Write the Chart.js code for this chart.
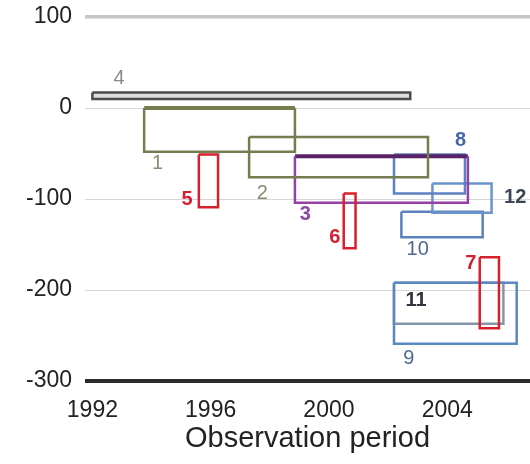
<!DOCTYPE html>
<html>
<head>
<meta charset="utf-8">
<script src="https://cdn.jsdelivr.net/npm/chart.js@4.4.0/dist/chart.umd.min.js"></script>
<style>
  html, body { margin: 0; padding: 0; background: #fff; }
  #wrap { width: 530px; height: 464px; }
</style>
</head>
<body>
<div id="wrap"><canvas id="boxChart" width="530" height="464"></canvas></div>
<script>
// observation windows (years) and value ranges for each study
const boxNames  = ['4', '1', '2', '3', '8', '12', '5', '6', '10', '9', '11', '7'];
const boxStart  = [1992.0, 1993.75, 1997.3, 1998.85, 2002.2, 2003.5, 1995.6, 2000.5, 2002.45, 2002.2, 2002.2, 2005.1];
const boxEnd    = [2002.75, 1998.85, 2003.35, 2004.7, 2004.6, 2005.5, 1996.25, 2000.9, 2005.2, 2006.35, 2005.9, 2005.75];
const boxHigh   = [17, 0, -32, -53, -51, -83, -51, -94, -114, -192, -192, -164];
const boxLow    = [10, -48, -76, -104, -94, -115, -109, -154, -142, -259, -237, -242];

const yearTicks  = [1992, 1996, 2000, 2004];
const valueTicks = [100, 0, -100, -200, -300];

const boxColors = {
  '4': '#4a4a4a', '1': '#737d50', '2': '#737d50', '3': '#9440a4',
  '8': '#5f80c2', '12': '#6a94cc', '5': '#d8202c', '6': '#d8202c',
  '10': '#5c82bc', '9': '#5c88c2', '11': '#8496aa', '7': '#d8202c'
};

// where each number sits, in data units
const labelSpots = {
  '4':  { x: 1992.9, y: 32,   color: '#8a8a8a', bold: false },
  '1':  { x: 1994.2, y: -61,  color: '#8a8c70', bold: false },
  '5':  { x: 1995.2, y: -101, color: '#d42030', bold: true },
  '2':  { x: 1997.75, y: -94, color: '#8a8c70', bold: false },
  '3':  { x: 1999.2, y: -117, color: '#8e48a0', bold: true },
  '8':  { x: 2004.45, y: -36, color: '#4a68a8', bold: true },
  '12': { x: 2006.3, y: -98,  color: '#3c4654', bold: true },
  '6':  { x: 2000.2, y: -142, color: '#d42030', bold: true },
  '10': { x: 2003.0, y: -155, color: '#4c6890', bold: false },
  '7':  { x: 2004.8, y: -171, color: '#d42030', bold: true },
  '11': { x: 2002.95, y: -212, color: '#2e3640', bold: true },
  '9':  { x: 2002.7, y: -275, color: '#4c6a98', bold: false }
};

function rectPoints(i) {
  return [
    { x: boxStart[i], y: boxHigh[i] },
    { x: boxEnd[i], y: boxHigh[i] },
    { x: boxEnd[i], y: boxLow[i] },
    { x: boxStart[i], y: boxLow[i] },
    { x: boxStart[i], y: boxHigh[i] }
  ];
}

const datasets = boxNames.map((name, i) => {
  const c = boxColors[name];
  const thickTop = (name === '1' || name === '3');
  return {
    label: name,
    data: rectPoints(i),
    showLine: true,
    pointRadius: 0,
    pointHoverRadius: 0,
    tension: 0,
    borderColor: c,
    borderWidth: 2.5,
    backgroundColor: name === '4' ? '#dedede' : 'transparent',
    fill: name === '4' ? 'shape' : false,
    order: name === '4' ? 0 : (name === '5' || name === '6' || name === '7' ? 1 : 2),
    segment: {
      borderWidth: ctx => (thickTop && ctx.p0DataIndex === 0) ? 4 : 2.5,
      borderColor: ctx => (name === '3' && ctx.p0DataIndex === 0) ? '#5a2266' : c
    }
  };
});

const labelPlugin = {
  id: 'boxLabels',
  afterDatasetsDraw(chart) {
    const { ctx, scales } = chart;
    ctx.save();
    ctx.textAlign = 'center';
    ctx.textBaseline = 'middle';
    Object.keys(labelSpots).forEach(name => {
      const s = labelSpots[name];
      ctx.font = (s.bold ? 'bold ' : '') + '20px "Liberation Sans", Arial, sans-serif';
      ctx.fillStyle = s.color;
      ctx.fillText(name, scales.x.getPixelForValue(s.x), scales.y.getPixelForValue(s.y));
    });
    ctx.restore();
  }
};

new Chart(document.getElementById('boxChart'), {
  type: 'scatter',
  data: { datasets },
  options: {
    responsive: false,
    animation: false,
    events: [],
    layout: { padding: { top: 17, right: 0, bottom: 0, left: 0 } },
    plugins: { legend: { display: false }, tooltip: { enabled: false } },
    scales: {
      x: {
        type: 'linear',
        min: 1991.75,
        max: 2006.8,
        afterBuildTicks: scale => { scale.ticks = yearTicks.map(v => ({ value: v })); },
        afterFit: scale => { scale.height = 83; scale.paddingLeft = 0; scale.paddingRight = 0; },
        grid: { display: false, drawTicks: false },
        border: { display: false },
        ticks: {
          padding: 16,
          color: '#222',
          font: { family: '"Liberation Sans", Arial, sans-serif', size: 23 },
          callback: v => String(v)
        },
        title: {
          display: true,
          text: 'Observation period',
          color: '#222',
          padding: { top: 0, bottom: 8 },
          font: { family: '"Liberation Sans", Arial, sans-serif', size: 29 }
        }
      },
      y: {
        min: -300,
        max: 100,
        afterBuildTicks: scale => { scale.ticks = valueTicks.map(v => ({ value: v })); },
        afterFit: scale => { scale.width = 85; scale.paddingTop = 0; scale.paddingBottom = 0; },
        border: { display: false },
        grid: {
          drawTicks: false,
          color: ctx => ctx.tick.value === -300 ? '#2a2a2a' : (ctx.tick.value === 100 ? '#c6c6c6' : '#d6d6d6'),
          lineWidth: ctx => ctx.tick.value === -300 ? 4 : (ctx.tick.value === 100 ? 3.5 : 1)
        },
        ticks: {
          padding: 13,
          color: '#222',
          font: { family: '"Liberation Sans", Arial, sans-serif', size: 23 }
        }
      }
    }
  },
  plugins: [labelPlugin]
});
</script>
</body>
</html>
